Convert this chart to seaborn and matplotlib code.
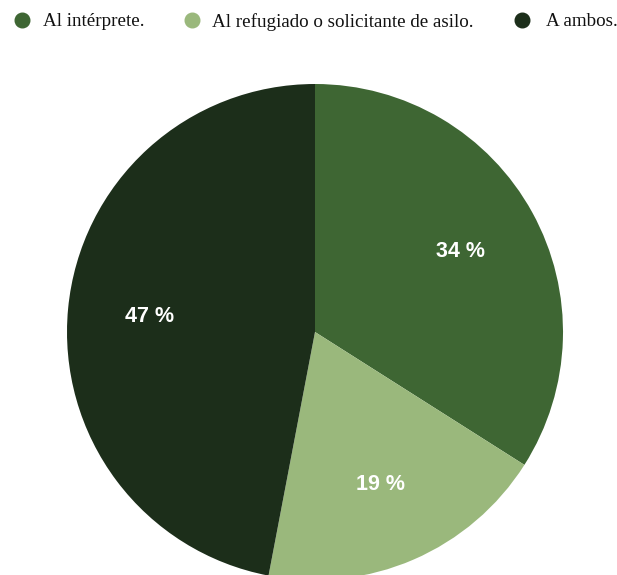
import matplotlib
matplotlib.use("Agg")
import matplotlib.pyplot as plt
import seaborn as sns

categories = ["Al intérprete.", "Al refugiado o solicitante de asilo.", "A ambos."]
values = [34, 19, 47]
colors = ["#3e6633", "#9ab87c", "#1c2e1a"]

sns.set_theme(style="white")
plt.rcParams["font.family"] = ["Liberation Sans", "DejaVu Sans"]

W, H = 617, 575
fig = plt.figure(figsize=(W / 100, H / 100), dpi=100)

# pie geometry in pixels
cx, cy, r = 315, 332, 248
ax = fig.add_axes([(cx - r) / W, (H - cy - r) / H, 2 * r / W, 2 * r / H])

wedges, texts, autotexts = ax.pie(
    values,
    colors=colors,
    startangle=90,
    counterclock=False,
    autopct=lambda p: f"{p:.0f} %",
    pctdistance=0.67,
    radius=1,
    wedgeprops=dict(linewidth=0),
    textprops=dict(color="white", fontsize=15.5, fontweight="bold"),
)
ax.set_xlim(-1, 1)
ax.set_ylim(-1, 1)
ax.set_aspect("equal")
ax.axis("off")

# legend row across the top: dot + label
marker_x = [22, 192, 522]
text_x = [43, 212, 546]
leg_y = 1 - 20 / H
for mx, tx, c, label in zip(marker_x, text_x, colors, categories):
    fig.lines.append(plt.Line2D([mx / W], [leg_y], marker="o", markersize=10.5,
                                color=c, linestyle="", transform=fig.transFigure,
                                figure=fig))
    fig.text(tx / W, leg_y, label, ha="left", va="center_baseline",
             fontsize=13.7, family="Liberation Serif", color="#111111")

fig.savefig("out.png", dpi=100)
